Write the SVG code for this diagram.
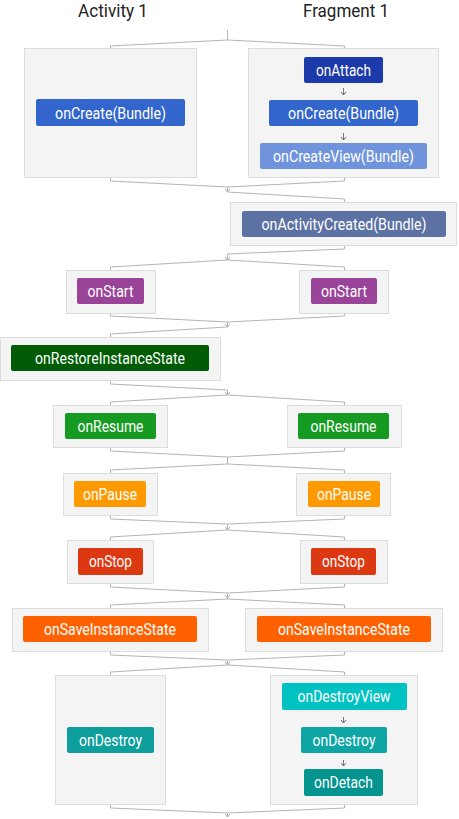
<svg xmlns="http://www.w3.org/2000/svg" width="459" height="819" viewBox="0 0 459 819">
<style>
.hdr{font-family:Roboto,"Liberation Sans",sans-serif;font-size:18px;fill:#222;text-anchor:middle}
.box{fill:#f4f4f4;stroke:#dcdcdc;stroke-width:1}
.btn{stroke:none}
.t{font-family:Roboto,"Liberation Sans",sans-serif;font-size:16px;fill:#fff;text-anchor:middle}
.c{fill:none;stroke:#b4b4b4;stroke-width:1}
.a{fill:none;stroke:#b4b4b4;stroke-width:1}
.ia{fill:none;stroke:#777;stroke-width:1}
</style>
<defs>
<marker id="ah" viewBox="0 0 4 6" refX="3.5" refY="3" markerWidth="4" markerHeight="6" markerUnits="userSpaceOnUse" orient="auto">
<path d="M0.5,0.5 L3.5,3 L0.5,5.5" fill="none" stroke="#aaa" stroke-width="1"/>
</marker>
<marker id="iah" viewBox="0 0 4 6" refX="3.5" refY="3" markerWidth="4" markerHeight="6" markerUnits="userSpaceOnUse" orient="auto">
<path d="M0.5,0.5 L3.5,3 L0.5,5.5" fill="none" stroke="#666" stroke-width="1"/>
</marker>
</defs>
<rect width="459" height="819" fill="#fff"/>
<text class="hdr" x="113" y="17" textLength="70" lengthAdjust="spacingAndGlyphs">Activity 1</text>
<text class="hdr" x="346" y="17" textLength="86" lengthAdjust="spacingAndGlyphs">Fragment 1</text>

<g id="act-create">
<rect class="box" x="24.5" y="48.5" width="172" height="129"/>
<rect class="btn" x="36" y="99" width="149" height="27" rx="2" fill="#3366cc"/>
<text class="t" x="110.5" y="118.5" textLength="111" lengthAdjust="spacingAndGlyphs">onCreate(Bundle)</text>
</g>
<g id="frag-create">
<rect class="box" x="248.5" y="48.5" width="190" height="129"/>
<rect class="btn" x="304" y="57" width="79" height="26" rx="2" fill="#1c3aa9"/>
<text class="t" x="343.5" y="76" textLength="55" lengthAdjust="spacingAndGlyphs">onAttach</text>
<rect class="btn" x="269" y="100" width="149" height="26" rx="2" fill="#3366cc"/>
<text class="t" x="343.5" y="119" textLength="111" lengthAdjust="spacingAndGlyphs">onCreate(Bundle)</text>
<rect class="btn" x="260" y="143" width="167" height="26" rx="2" fill="#7094dc"/>
<text class="t" x="343.5" y="162" textLength="141" lengthAdjust="spacingAndGlyphs">onCreateView(Bundle)</text>
</g>
<g id="frag-activitycreated">
<rect class="box" x="230.5" y="202.5" width="226" height="43"/>
<rect class="btn" x="242" y="211" width="204" height="26" rx="2" fill="#5c72a4"/>
<text class="t" x="344" y="230" textLength="165" lengthAdjust="spacingAndGlyphs">onActivityCreated(Bundle)</text>
</g>
<g id="act-start">
<rect class="box" x="66.5" y="270.5" width="89" height="43"/>
<rect class="btn" x="77" y="278" width="67" height="26" rx="2" fill="#994499"/>
<text class="t" x="110.5" y="297" textLength="46" lengthAdjust="spacingAndGlyphs">onStart</text>
</g>
<g id="frag-start">
<rect class="box" x="299.5" y="270.5" width="89" height="43"/>
<rect class="btn" x="311" y="278" width="66" height="26" rx="2" fill="#994499"/>
<text class="t" x="344" y="297" textLength="46" lengthAdjust="spacingAndGlyphs">onStart</text>
</g>
<g id="act-restore">
<rect class="box" x="0.5" y="337.5" width="220" height="43"/>
<rect class="btn" x="11" y="345" width="198" height="26" rx="2" fill="#005c04"/>
<text class="t" x="110" y="364" textLength="150" lengthAdjust="spacingAndGlyphs">onRestoreInstanceState</text>
</g>
<g id="act-resume">
<rect class="box" x="53.5" y="405.5" width="114" height="42"/>
<rect class="btn" x="65" y="413" width="91" height="26" rx="2" fill="#169b22"/>
<text class="t" x="110.5" y="432" textLength="66" lengthAdjust="spacingAndGlyphs">onResume</text>
</g>
<g id="frag-resume">
<rect class="box" x="287.5" y="405.5" width="114" height="42"/>
<rect class="btn" x="298" y="413" width="91" height="26" rx="2" fill="#169b22"/>
<text class="t" x="343.5" y="432" textLength="66" lengthAdjust="spacingAndGlyphs">onResume</text>
</g>
<g id="act-pause">
<rect class="box" x="63.5" y="473.5" width="94" height="42"/>
<rect class="btn" x="74" y="481" width="72" height="26" rx="2" fill="#ff9900"/>
<text class="t" x="110" y="500" textLength="54" lengthAdjust="spacingAndGlyphs">onPause</text>
</g>
<g id="frag-pause">
<rect class="box" x="296.5" y="473.5" width="94" height="42"/>
<rect class="btn" x="308" y="481" width="72" height="26" rx="2" fill="#ff9900"/>
<text class="t" x="344" y="500" textLength="54" lengthAdjust="spacingAndGlyphs">onPause</text>
</g>
<g id="act-stop">
<rect class="box" x="67.5" y="540.5" width="86" height="43"/>
<rect class="btn" x="78" y="548" width="65" height="27" rx="2" fill="#dc3912"/>
<text class="t" x="110.5" y="567" textLength="43" lengthAdjust="spacingAndGlyphs">onStop</text>
</g>
<g id="frag-stop">
<rect class="box" x="300.5" y="540.5" width="87" height="43"/>
<rect class="btn" x="311" y="548" width="65" height="27" rx="2" fill="#dc3912"/>
<text class="t" x="343.5" y="567" textLength="43" lengthAdjust="spacingAndGlyphs">onStop</text>
</g>
<g id="act-save">
<rect class="box" x="12.5" y="608.5" width="196" height="43"/>
<rect class="btn" x="23" y="616" width="174" height="26" rx="2" fill="#ff6100"/>
<text class="t" x="110" y="635" textLength="132" lengthAdjust="spacingAndGlyphs">onSaveInstanceState</text>
</g>
<g id="frag-save">
<rect class="box" x="245.5" y="608.5" width="197" height="43"/>
<rect class="btn" x="257" y="616" width="174" height="26" rx="2" fill="#ff6100"/>
<text class="t" x="344" y="635" textLength="132" lengthAdjust="spacingAndGlyphs">onSaveInstanceState</text>
</g>
<g id="act-destroy">
<rect class="box" x="55.5" y="675.5" width="110" height="129"/>
<rect class="btn" x="67" y="727" width="87" height="26" rx="2" fill="#0e9e9c"/>
<text class="t" x="110.5" y="746" textLength="63" lengthAdjust="spacingAndGlyphs">onDestroy</text>
</g>
<g id="frag-destroy">
<rect class="box" x="270.5" y="675.5" width="147" height="129"/>
<rect class="btn" x="282" y="683" width="125" height="27" rx="2" fill="#00c2c2"/>
<text class="t" x="344" y="702" textLength="93" lengthAdjust="spacingAndGlyphs">onDestroyView</text>
<rect class="btn" x="301" y="727" width="86" height="26" rx="2" fill="#0ea6a4"/>
<text class="t" x="344" y="746" textLength="63" lengthAdjust="spacingAndGlyphs">onDestroy</text>
<rect class="btn" x="304" y="769" width="79" height="27" rx="2" fill="#049490"/>
<text class="t" x="343.5" y="788" textLength="59" lengthAdjust="spacingAndGlyphs">onDetach</text>
</g>

<g id="connectors">
<path class="c" d="M227.5,30 V40 M227.5,40 L110.5,46 V48 M227.5,40 L344.5,46 V48"/>
<path class="c" d="M110.5,178 V181 L227.5,187 M344.5,178 V181 L227.5,187"/>
<path class="a" d="M227.5,187 V192" marker-end="url(#ah)"/>
<path class="c" d="M227.5,192 L344.5,199 V202"/>
<path class="c" d="M344.5,246 V249 L227.5,254"/>
<path class="a" d="M227.5,254 V260" marker-end="url(#ah)"/>
<path class="c" d="M227.5,260 L110.5,267 V270 M227.5,260 L344.5,267 V270"/>
<path class="c" d="M110.5,314 V316 L227.5,322 M344.5,314 V316 L227.5,322"/>
<path class="a" d="M227.5,322 V327" marker-end="url(#ah)"/>
<path class="c" d="M227.5,327 L110.5,334 V337"/>
<path class="c" d="M110.5,381 V384 L227.5,390"/>
<path class="a" d="M227.5,390 V395" marker-end="url(#ah)"/>
<path class="c" d="M227.5,395 L110.5,402 V405 M227.5,395 L344.5,402 V405"/>
<path class="c" d="M110.5,448 V451 L227.5,457 M344.5,448 V451 L227.5,457 V464 M227.5,464 L110.5,470 V473 M227.5,464 L344.5,470 V473"/>
<path class="c" d="M110.5,516 V519 L227.5,524 M344.5,516 V519 L227.5,524"/>
<path class="a" d="M227.5,524 V530" marker-end="url(#ah)"/>
<path class="c" d="M227.5,530 L110.5,537 V540 M227.5,530 L344.5,537 V540"/>
<path class="c" d="M110.5,584 V587 L227.5,593 M344.5,584 V587 L227.5,593"/>
<path class="a" d="M227.5,593 V598" marker-end="url(#ah)"/>
<path class="c" d="M227.5,598 V599 L110.5,605 V608 M227.5,599 L344.5,605 V608"/>
<path class="c" d="M110.5,652 V655 L227.5,660 M344.5,652 V655 L227.5,660"/>
<path class="a" d="M227.5,660 V665" marker-end="url(#ah)"/>
<path class="c" d="M227.5,665 L110.5,672 V675 M227.5,665 L344.5,672 V675"/>
<path class="c" d="M110.5,805 V808 L227.5,813 M344.5,805 V808 L227.5,813"/>
<path class="a" d="M227.5,813 V817" marker-end="url(#ah)"/>
<path class="ia" d="M343.5,88 V95" marker-end="url(#iah)"/>
<path class="ia" d="M343.5,133 V140" marker-end="url(#iah)"/>
<path class="ia" d="M343.5,717 V723" marker-end="url(#iah)"/>
<path class="ia" d="M343.5,760 V766" marker-end="url(#iah)"/>
</g>
</svg>
